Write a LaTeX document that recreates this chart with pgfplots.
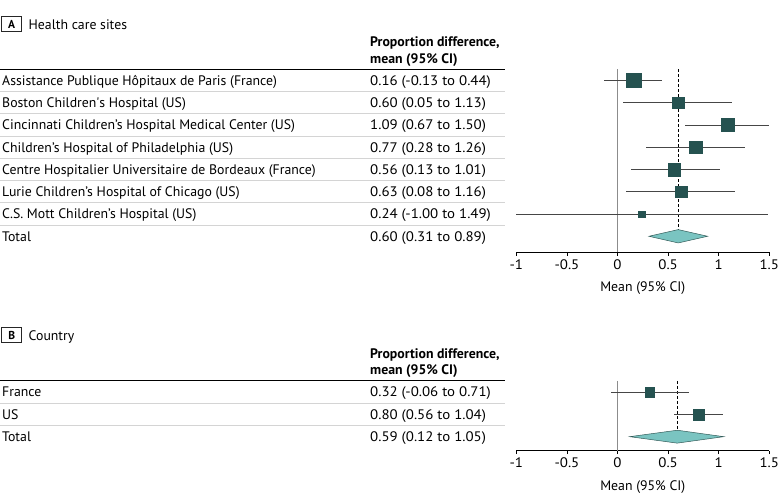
\documentclass[border=0pt]{standalone}
\usepackage{pgfplots}
\pgfplotsset{compat=1.18}
\usepackage{pgfplotstable}
\usepackage{fontspec}
\setmainfont{PT Sans}
\newfontfamily\valfont[FakeStretch=1.08]{PT Sans}
\definecolor{sq}{RGB}{37,82,80}
\definecolor{dfill}{RGB}{122,196,193}
\definecolor{ddraw}{RGB}{50,90,88}
\definecolor{cig}{RGB}{70,70,70}
\definecolor{zg}{RGB}{140,140,140}
\definecolor{sepc}{RGB}{212,212,212}
\newcommand{\fs}{\fontsize{13.8bp}{16bp}\selectfont}

% rows: r (negative row index), m mean, lo, hi, s half-size of square (pt)
\pgfplotstableread{
r m lo hi s
-1 0.16 -0.13 0.44 7.1
-2 0.60 0.05 1.13 5.7
-3 1.09 0.67 1.50 6.7
-4 0.77 0.28 1.26 6.3
-5 0.56 0.13 1.01 6.5
-6 0.63 0.08 1.16 5.9
-7 0.24 -1.00 1.49 3.3
}\siteA
\pgfplotstableread{
r m lo hi s
-1 0.32 -0.06 0.71 4.8
-2 0.80 0.56 1.04 5.4
}\countryB

\pgfplotsset{forest/.style={
  x=101.2bp,
  xmin=-1, xmax=1.5,
  axis x line*=bottom, axis y line=none,
  xtick={-1,-0.5,0,0.5,1,1.5},
  xticklabels={-1,-0.5,0,0.5,1,1.5},
  tick align=outside, major tick length=3.5bp,
  x axis line style={-, line width=0.8bp},
  tick style={black, line width=0.8bp},
  ticklabel style={font=\valfont\fs},
  xlabel={Mean (95\% CI)},
  xlabel style={font=\fs, yshift=-6bp},
  clip=false,
  anchor=south west,
}}

\begin{document}
\begin{tikzpicture}[x=1bp,y=1bp]
\path[use as bounding box] (0,0) rectangle (780,504);

% ---------------- Panel A text ----------------
\draw[line width=1.2bp, black!85] (1.8,504-31.5) rectangle (21.5,504-16.3);
\node[anchor=base, inner sep=0, font=\fontsize{11.5bp}{13bp}\selectfont\bfseries] at (11.65,504-28.2) {A};
\node[anchor=base west, inner sep=0, font=\fs] at (28.5,504-29.3) {Health care sites};
\node[anchor=base west, inner sep=0, font=\fs\bfseries] at (370,504-46.7) {Proportion difference,};
\node[anchor=base west, inner sep=0, font=\fs\bfseries] at (370,504-63.3) {mean (95\% CI)};
\draw[line width=1.5bp, black] (0,504-69.3) -- (505,504-69.3);
\foreach \yy in {91.6,113.9,136.1,158.4,180.6,202.9,225.1}
  \draw[line width=0.9bp, sepc] (0,504-\yy) -- (505,504-\yy);
\foreach \lab/\val [count=\i from 0] in {
  Assistance Publique Hôpitaux de Paris (France)/0.16 (-0.13 to 0.44),
  Boston Children\textquotesingle s Hospital (US)/0.60 (0.05 to 1.13),
  Cincinnati Children’s Hospital Medical Center (US)/1.09 (0.67 to 1.50),
  Children’s Hospital of Philadelphia (US)/0.77 (0.28 to 1.26),
  Centre Hospitalier Universitaire de Bordeaux (France)/0.56 (0.13 to 1.01),
  Lurie Children’s Hospital of Chicago (US)/0.63 (0.08 to 1.16),
  C.S. Mott Children’s Hospital (US)/0.24 (-1.00 to 1.49),
  Total/0.60 (0.31 to 0.89)} {
  \node[anchor=base west, inner sep=0, font=\fs] at (2,504-85.5-\i*22.25) {\lab};
  \node[anchor=base west, inner sep=0, font=\valfont\fs] at (370,504-85.5-\i*22.25) {\val};
}

% ---------------- Panel A plot ----------------
\begin{axis}[forest, at={(516.3bp,251.7bp)}, y=22.25bp, ymin=-8.72, ymax=-0.5]
\addplot[zg, line width=0.8bp] coordinates {(0,-0.5) (0,-8.72)};
\addplot[black, line width=0.9bp, dash pattern=on 3bp off 2bp] coordinates {(0.60,-0.5) (0.60,-8)};
\addplot[only marks, mark=none, error bars/.cd, x dir=both, x explicit, error mark=none,
  error bar style={cig, line width=0.7bp, solid}]
  table[x=m, y=r, x error plus expr=\thisrow{hi}-\thisrow{m}, x error minus expr=\thisrow{m}-\thisrow{lo}] {\siteA};
\addplot[scatter, only marks, mark=square*, mark options={line width=0.4bp},
  scatter/use mapped color={draw=sq, fill=sq},
  visualization depends on={\thisrow{s}\as\ms},
  scatter/@pre marker code/.append style={/tikz/mark size=\ms}]
  table[x=m, y=r] {\siteA};
\addplot[fill=dfill, draw=ddraw, line width=0.5bp] coordinates {(0.31,-8) (0.60,-7.70) (0.89,-8) (0.60,-8.30)} -- cycle;
\end{axis}

% ---------------- Panel B text ----------------
\draw[line width=1.2bp, black!85] (1.8,504-342.9) rectangle (21.5,504-327.7);
\node[anchor=base, inner sep=0, font=\fontsize{11.5bp}{13bp}\selectfont\bfseries] at (11.65,504-339.6) {B};
\node[anchor=base west, inner sep=0, font=\fs] at (28.5,504-340.7) {Country};
\node[anchor=base west, inner sep=0, font=\fs\bfseries] at (370,504-358.1) {Proportion difference,};
\node[anchor=base west, inner sep=0, font=\fs\bfseries] at (370,504-374.7) {mean (95\% CI)};
\draw[line width=1.5bp, black] (0,504-380.7) -- (505,504-380.7);
\foreach \yy in {403.0,425.3}
  \draw[line width=0.9bp, sepc] (0,504-\yy) -- (505,504-\yy);
\foreach \lab/\val [count=\i from 0] in {
  France/0.32 (-0.06 to 0.71),
  US/0.80 (0.56 to 1.04),
  Total/0.59 (0.12 to 1.05)} {
  \node[anchor=base west, inner sep=0, font=\fs] at (2,504-396.9-\i*22.25) {\lab};
  \node[anchor=base west, inner sep=0, font=\valfont\fs] at (370,504-396.9-\i*22.25) {\val};
}

% ---------------- Panel B plot ----------------
\begin{axis}[forest, at={(516.3bp,53.3bp)}, y=22.25bp, ymin=-3.63, ymax=-0.49]
\addplot[zg, line width=0.8bp] coordinates {(0,-0.49) (0,-3.63)};
\addplot[black, line width=0.9bp, dash pattern=on 3bp off 2bp] coordinates {(0.59,-0.49) (0.59,-3)};
\addplot[only marks, mark=none, error bars/.cd, x dir=both, x explicit, error mark=none,
  error bar style={cig, line width=0.7bp, solid}]
  table[x=m, y=r, x error plus expr=\thisrow{hi}-\thisrow{m}, x error minus expr=\thisrow{m}-\thisrow{lo}] {\countryB};
\addplot[scatter, only marks, mark=square*, mark options={line width=0.4bp},
  scatter/use mapped color={draw=sq, fill=sq},
  visualization depends on={\thisrow{s}\as\ms},
  scatter/@pre marker code/.append style={/tikz/mark size=\ms}]
  table[x=m, y=r] {\countryB};
\addplot[fill=dfill, draw=ddraw, line width=0.5bp] coordinates {(0.12,-3) (0.59,-2.71) (1.05,-3) (0.59,-3.29)} -- cycle;
\end{axis}
\end{tikzpicture}
\end{document}
